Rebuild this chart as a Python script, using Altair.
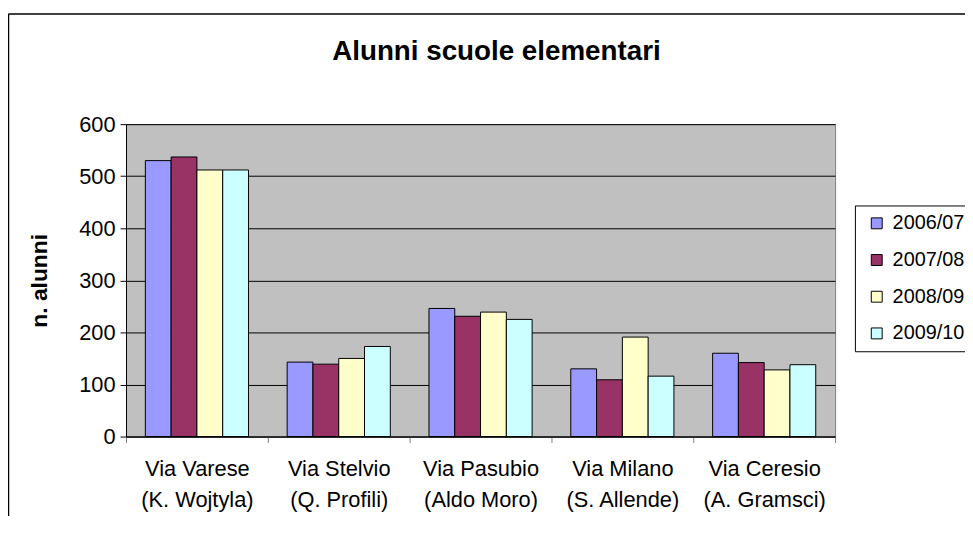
import altair as alt
import pandas as pd

categories = [
    "Via Varese\n(K. Wojtyla)",
    "Via Stelvio\n(Q. Profili)",
    "Via Pasubio\n(Aldo Moro)",
    "Via Milano\n(S. Allende)",
    "Via Ceresio\n(A. Gramsci)",
]
years = ["2006/07", "2007/08", "2008/09", "2009/10"]
v_2006_07 = [530, 143, 246, 130, 160]
v_2007_08 = [537, 139, 231, 109, 142]
v_2008_09 = [512, 150, 239, 191, 128]
v_2009_10 = [512, 173, 225, 116, 138]
colors = ["#9999FF", "#993366", "#FFFFCC", "#CCFFFF"]

series = [v_2006_07, v_2007_08, v_2008_09, v_2009_10]
rows = []
for y, vals in zip(years, series):
    for c, v in zip(categories, vals):
        rows.append({"scuola": c, "anno": y, "alunni": v})
df = pd.DataFrame(rows)

FONT = "Liberation Sans"
W, H = 715, 315

bars = alt.Chart(df).mark_bar(stroke="black", strokeWidth=1).encode(
    x=alt.X(
        "scuola:N",
        sort=categories,
        scale=alt.Scale(paddingInner=0, paddingOuter=0),
        axis=alt.Axis(
            title=None,
            labelAngle=0,
            labelExpr="split(datum.label, '\\n')",
            labelFontSize=22,
            labelFont=FONT,
            labelColor="black",
            labelLineHeight=32,
            labelPadding=16,
            tickBand="extent",
            tickSize=6,
            tickColor="#808080",
            domainColor="black",
            domainWidth=1,
            grid=False,
        ),
    ),
    xOffset=alt.XOffset(
        "anno:N",
        sort=years,
        scale=alt.Scale(paddingInner=0, paddingOuter=0.75),
    ),
    y=alt.Y(
        "alunni:Q",
        scale=alt.Scale(domain=[0, 600], nice=False),
        axis=alt.Axis(
            title="n. alunni",
            titleFont=FONT,
            titleFontSize=23,
            titleFontWeight="bold",
            titleColor="black",
            titleAngle=270,
            titleX=-87,
            titleY=H / 2,
            titleAlign="center",
            titleBaseline="middle",
            values=[0, 100, 200, 300, 400, 500, 600],
            labelFontSize=22,
            labelFont=FONT,
            labelColor="black",
            labelPadding=5,
            tickSize=6,
            tickColor="black",
            domainColor="black",
            grid=True,
            gridColor="black",
            gridWidth=1,
        ),
    ),
    color=alt.Color(
        "anno:N",
        sort=years,
        scale=alt.Scale(domain=years, range=colors),
        legend=alt.Legend(
            title=None,
            orient="none",
            legendX=735,
            legendY=82,
            strokeColor="black",
            fillColor="white",
            padding=8,
            symbolType="square",
            symbolSize=121,
            symbolStrokeColor="black",
            symbolStrokeWidth=1,
            symbolOpacity=1,
            symbolOffset=4,
            labelFont=FONT,
            labelFontSize=20,
            labelColor="black",
            labelOffset=6,
            rowPadding=17,
        ),
    ),
)

one = pd.DataFrame({"k": [0]})
border_top = alt.Chart(one).mark_rule(color="black", strokeWidth=1.5).encode(
    x=alt.value(-118.5), x2=alt.value(2000), y=alt.value(-111), y2=alt.value(-111)
)
border_left = alt.Chart(one).mark_rule(color="black", strokeWidth=1.5).encode(
    x=alt.value(-118.5), x2=alt.value(-118.5), y=alt.value(-111), y2=alt.value(2000)
)

chart = (
    alt.layer(bars, border_top, border_left)
    .properties(
        width=W,
        height=H,
        autosize=alt.AutoSizeParams(type="none"),
        padding={"left": 119, "top": 115, "right": 131, "bottom": 78},
        title=alt.TitleParams(
            "Alunni scuole elementari",
            font=FONT,
            fontSize=28,
            fontWeight="bold",
            color="black",
            anchor="middle",
            baseline="alphabetic",
            dx=16,
            offset=-75,
        ),
    )
    .configure(background="white")
    .configure_view(fill="#C0C0C0", stroke="#808080", strokeWidth=1)
)

chart.save("out.html", embed_options={"renderer": "svg", "actions": False})
